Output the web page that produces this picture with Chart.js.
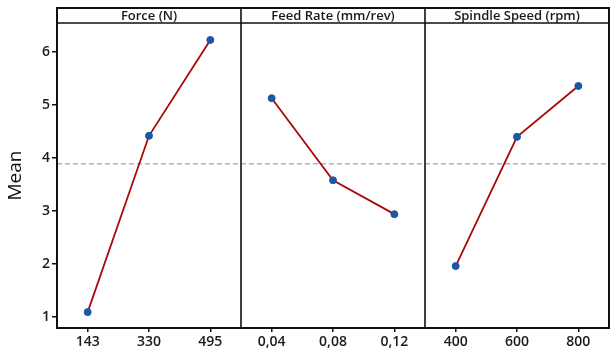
<!DOCTYPE html>
<html>
<head>
<meta charset="utf-8">
<script src="https://cdn.jsdelivr.net/npm/chart.js@4.4.1/dist/chart.umd.min.js"></script>
<style>
  html, body { margin: 0; padding: 0; background: #fff; }
  #wrap { position: relative; width: 614px; height: 351px; }
</style>
</head>
<body>
<div id="wrap"><canvas id="mainEffects" width="614" height="351"></canvas></div>
<script>
// factor panels and their level labels
const panelTitles = ["Force (N)", "Feed Rate (mm/rev)", "Spindle Speed (rpm)"];
const forceLevels = ["143", "330", "495"];
const feedLevels = ["0,04", "0,08", "0,12"];
const speedLevels = ["400", "600", "800"];

// mean response at each level
const forceMeans = [1.09, 4.42, 6.23];
const feedMeans = [5.13, 3.58, 2.94];
const speedMeans = [1.96, 4.40, 5.36];

const grandMean = 3.89;
const yTicks = [1, 2, 3, 4, 5, 6];

const levels = [forceLevels, feedLevels, speedLevels];
const means = [forceMeans, feedMeans, speedMeans];
const allLabels = levels.flat();

const FONT = "'Open Sans', 'DejaVu Sans', sans-serif";

// each panel takes 3 slots on a shared linear x axis
const datasets = means.map((vals, p) => ({
  data: vals.map((v, i) => ({ x: p * 3 + i + 0.5, y: v })),
  borderColor: "#a80a0a",
  borderWidth: 1.8,
  pointBackgroundColor: "#1d56a5",
  pointBorderColor: "#1d56a5",
  pointRadius: 3.5,
  pointBorderWidth: 1,
  tension: 0,
}));

datasets.push({
  data: [{ x: 0, y: grandMean }, { x: 9, y: grandMean }],
  borderColor: "#8c8c8c",
  borderWidth: 1,
  borderDash: [5, 3],
  pointRadius: 0,
});

const panelFrame = {
  id: "panelFrame",
  afterDraw(chart) {
    const { ctx, chartArea: a, scales } = chart;
    const headTop = 8;
    ctx.save();
    ctx.strokeStyle = "#111";
    ctx.lineWidth = 2;
    ctx.strokeRect(a.left, headTop, a.right - a.left, a.bottom - headTop);
    ctx.lineWidth = 1.6;
    ctx.beginPath();
    ctx.moveTo(a.left, a.top);
    ctx.lineTo(a.right, a.top);
    [3, 6].forEach((v) => {
      const x = scales.x.getPixelForValue(v);
      ctx.moveTo(x, headTop);
      ctx.lineTo(x, a.bottom);
    });
    ctx.stroke();

    ctx.fillStyle = "#1a1a1a";
    ctx.font = "600 13px " + FONT;
    ctx.textAlign = "center";
    ctx.textBaseline = "middle";
    panelTitles.forEach((t, p) => {
      const x = scales.x.getPixelForValue(p * 3 + 1.5);
      ctx.fillText(t, x, (headTop + a.top) / 2 + 0.5);
    });
    ctx.restore();
  },
};

new Chart(document.getElementById("mainEffects"), {
  type: "line",
  data: { datasets },
  options: {
    responsive: false,
    animation: false,
    layout: { padding: { top: 23, right: 3, left: 0, bottom: 0 } },
    plugins: { legend: { display: false }, tooltip: { enabled: false } },
    scales: {
      x: {
        type: "linear",
        min: 0,
        max: 9,
        afterBuildTicks: (scale) => {
          scale.ticks = allLabels.map((_, i) => ({ value: i + 0.5 }));
        },
        afterFit: (scale) => { scale.height = 23; },
        ticks: {
          autoSkip: false,
          maxRotation: 0,
          padding: 2,
          color: "#1a1a1a",
          font: { family: FONT, size: 14, weight: "600" },
          callback: (value) => allLabels[Math.floor(value)],
        },
        grid: { drawOnChartArea: false, drawTicks: true, tickLength: 4, color: "#111", lineWidth: 1.5 },
        border: { display: false },
      },
      y: {
        min: 0.79,
        max: 6.55,
        afterBuildTicks: (scale) => {
          scale.ticks = yTicks.map((v) => ({ value: v }));
        },
        afterFit: (scale) => { scale.width = 57; },
        ticks: {
          padding: 2,
          color: "#1a1a1a",
          font: { family: FONT, size: 14, weight: "600" },
        },
        title: {
          display: true,
          text: "Mean",
          color: "#111",
          padding: { top: 4, bottom: 0 },
          font: { family: FONT, size: 19 },
        },
        grid: { drawOnChartArea: false, drawTicks: true, tickLength: 5, color: "#111", lineWidth: 1.5 },
        border: { display: false },
      },
    },
  },
  plugins: [panelFrame],
});
</script>
</body>
</html>
